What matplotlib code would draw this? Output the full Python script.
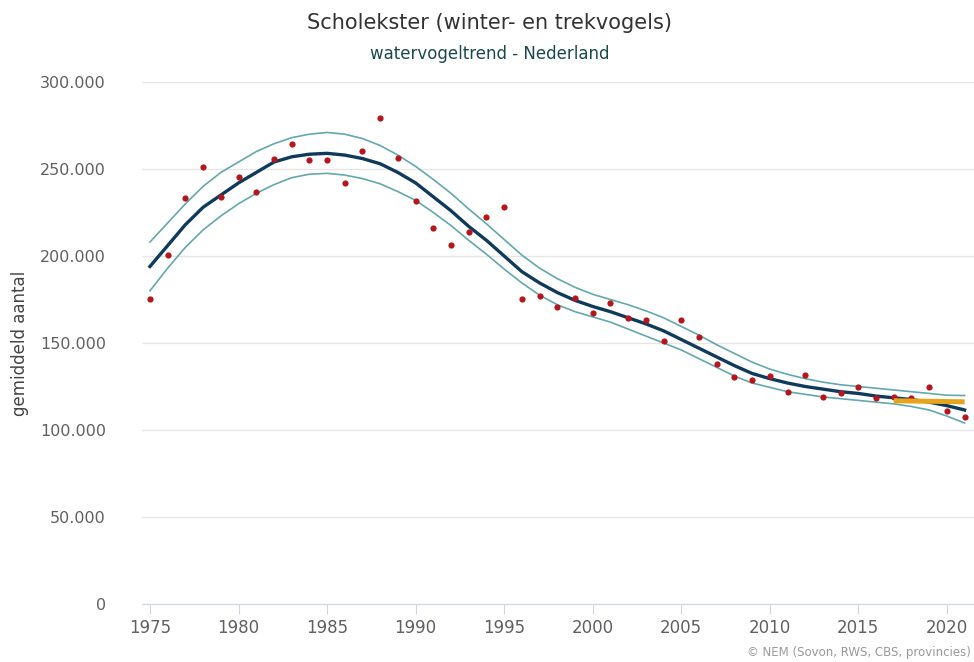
import numpy as np
import matplotlib
matplotlib.use("Agg")
import matplotlib.pyplot as plt
from matplotlib.ticker import FuncFormatter

plt.rcParams['font.family'] = ['DejaVu Sans']

years = np.arange(1975, 2022)

# jaarlijkse tellingen (gemiddeld aantal)
counts = [175300, 200600, 233200, 251300, 234100, 245600, 237000, 255500, 264200, 255200,
          255200, 241800, 260300, 279500, 256100, 231600, 215900, 206300, 213800, 222600,
          228300, 175300, 177200, 170500, 175700, 167100, 172800, 164200, 163200, 151300,
          163200, 153400, 137900, 130300, 128700, 131000, 121700, 131600, 118800, 121400,
          124500, 118600, 119100, 118200, 124500, 111100, 107300]

trend = [194000, 206000, 218000, 228000, 235000, 242000, 248000, 254000, 257000, 258500,
         259000, 258000, 256000, 253000, 248000, 242000, 234000, 226000, 217000, 209000,
         200000, 191000, 184500, 179000, 174500, 171000, 168000, 164500, 161000, 157000,
         152000, 147000, 142000, 137000, 132500, 129500, 127000, 125000, 123500, 122000,
         121000, 119500, 118500, 117500, 116000, 114000, 111500]

upper = [208000, 219000, 230000, 240000, 248000, 254000, 260000, 264500, 268000, 270000,
         271000, 270000, 267500, 263500, 258000, 251500, 244000, 236000, 227000, 218500,
         209500, 200500, 193000, 187000, 182000, 178000, 175000, 172000, 168500, 164500,
         159500, 154500, 149000, 144000, 139000, 135000, 132000, 129500, 127500, 126000,
         125000, 124000, 123000, 122000, 121000, 120000, 119800]

lower = [180000, 193000, 205000, 215000, 223000, 230000, 236000, 241000, 245000, 247000,
         247500, 246500, 244500, 241500, 237000, 232000, 225000, 217500, 209000, 201000,
         192500, 184500, 177500, 172000, 168000, 165000, 162000, 158000, 154000, 150000,
         146000, 141000, 136000, 131000, 127000, 124500, 122000, 120500, 119000, 118000,
         117000, 116000, 115000, 113500, 111500, 108000, 104000]

# korte termijn trend (oranje)
short_years = [2017, 2021]
short_vals = [116800, 116200]

fig = plt.figure(figsize=(9.74, 6.62), dpi=100)
ax = fig.add_axes([142/974, 58/662, 832/974, 522/662])

ax.plot(years, upper, color='#62a8ad', lw=1.2, zorder=2, solid_joinstyle='round')
ax.plot(years, lower, color='#62a8ad', lw=1.2, zorder=2, solid_joinstyle='round')
ax.plot(years, trend, color='#0f3a5c', lw=2.4, zorder=3, solid_joinstyle='round')
ax.scatter(years, counts, s=20, color='#b5151b', zorder=4, linewidths=0)
ax.plot(short_years, short_vals, color='#e8a31c', lw=3.6, zorder=5, solid_capstyle='butt')

ax.set_xlim(1974.55, 2021.53)
ax.set_ylim(0, 300000)
ax.set_yticks(np.arange(0, 300001, 50000))
ax.set_xticks(np.arange(1975, 2021, 5))
ax.yaxis.set_major_formatter(FuncFormatter(lambda v, p: f"{int(v):,}".replace(",", ".")))
ax.grid(axis='y', color='#e6e6e6', lw=1)
ax.set_axisbelow(True)
for s in ['top', 'right', 'left']:
    ax.spines[s].set_visible(False)
ax.spines['bottom'].set_color('#ccd6eb')
ax.tick_params(axis='y', length=0, pad=26, labelsize=11.5, labelcolor='#606060')
ax.tick_params(axis='x', length=7, color='#ccd6eb', pad=4, labelsize=12, labelcolor='#606060')
ax.set_ylabel('gemiddeld aantal', fontsize=12, color='#444444', labelpad=8)

fig.text(0.503, 0.965, 'Scholekster (winter- en trekvogels)', ha='center', va='center',
         fontsize=15, color='#333333')
fig.text(0.503, 0.918, 'watervogeltrend - Nederland', ha='center', va='center',
         fontsize=12, color='#1b4a4e')
fig.text(0.997, 0.015, '© NEM (Sovon, RWS, CBS, provincies)', ha='right', va='center',
         fontsize=8.5, color='#999999')

fig.savefig('out.png', dpi=100)
